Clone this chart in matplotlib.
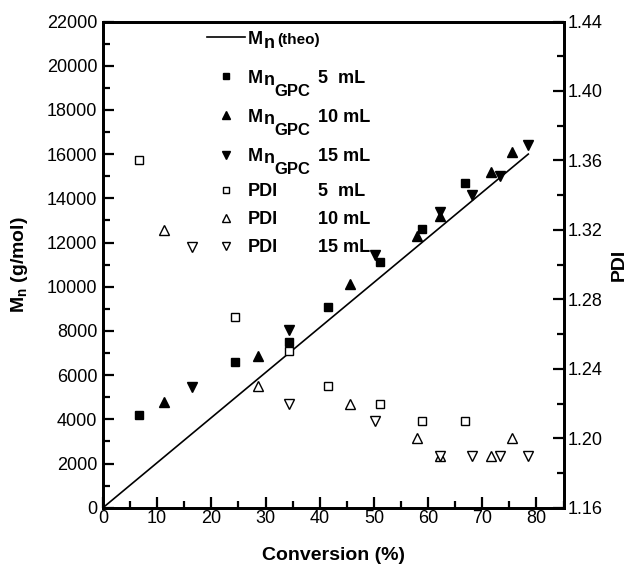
import matplotlib
matplotlib.use("Agg")
import matplotlib.pyplot as plt
from matplotlib.ticker import MultipleLocator, FormatStrFormatter

# data
theo_conv = [0, 78.5]
theo_mn = [0, 16000]

conv_5 = [6.6, 24.3, 34.3, 41.6, 51.2, 58.8, 66.9]
mn_5 = [4200, 6600, 7500, 9100, 11100, 12600, 14700]
pdi_5 = [1.36, 1.27, 1.25, 1.23, 1.22, 1.21, 1.21]

conv_10 = [11.3, 28.6, 45.6, 58.0, 62.2, 71.7, 75.5]
mn_10 = [4800, 6850, 10100, 12300, 13200, 15200, 16100]
pdi_10 = [1.32, 1.23, 1.22, 1.20, 1.19, 1.19, 1.20]

conv_15 = [16.5, 34.3, 50.2, 62.2, 68.2, 73.2, 78.5]
mn_15 = [5450, 8050, 11450, 13400, 14150, 15000, 16400]
pdi_15 = [1.31, 1.22, 1.21, 1.19, 1.19, 1.19, 1.19]

vol_labels = ["5  mL", "10 mL", "15 mL"]

plt.rcParams["font.family"] = "Liberation Sans"
plt.rcParams["mathtext.fontset"] = "custom"
plt.rcParams["mathtext.rm"] = "Liberation Sans:bold"
plt.rcParams["mathtext.bf"] = "Liberation Sans:bold"
plt.rcParams["mathtext.it"] = "Liberation Sans:bold"
plt.rcParams["mathtext.default"] = "bf"

fig = plt.figure(figsize=(6.35, 5.68), dpi=100)
ax = fig.add_axes([103 / 635, (568 - 507.7) / 568, 460.5 / 635, 486.2 / 568])
ax2 = ax.twinx()

h0, = ax.plot(theo_conv, theo_mn, color="black", lw=1.2)
h1, = ax.plot(conv_5, mn_5, "s", color="black", ms=6, ls="none")
h2, = ax.plot(conv_10, mn_10, "^", color="black", ms=7, ls="none")
h3, = ax.plot(conv_15, mn_15, "v", color="black", ms=7, ls="none")
h4, = ax2.plot(conv_5, pdi_5, "s", mfc="white", mec="black", mew=1, ms=5.5, ls="none")
h5, = ax2.plot(conv_10, pdi_10, "^", mfc="white", mec="black", mew=1, ms=7, ls="none")
h6, = ax2.plot(conv_15, pdi_15, "v", mfc="white", mec="black", mew=1, ms=7, ls="none")

ax.set_xlim(0, 85)
ax.set_ylim(0, 22000)
ax2.set_ylim(1.16, 1.44)

ax.xaxis.set_major_locator(MultipleLocator(10))
ax.xaxis.set_minor_locator(MultipleLocator(5))
ax.yaxis.set_major_locator(MultipleLocator(2000))
ax.yaxis.set_minor_locator(MultipleLocator(1000))
ax2.yaxis.set_major_locator(MultipleLocator(0.04))
ax2.yaxis.set_minor_locator(MultipleLocator(0.02))
ax2.yaxis.set_major_formatter(FormatStrFormatter("%.2f"))

for a in (ax, ax2):
    a.tick_params(which="both", direction="in", labelsize=13, width=1.6)
    a.tick_params(which="major", length=8)
    a.tick_params(which="minor", length=5)
    for s in a.spines.values():
        s.set_linewidth(2)
ax.tick_params(axis="both", top=False, right=False)
ax.tick_params(axis="x", pad=2)
ax.tick_params(axis="y", pad=4)
ax2.tick_params(axis="y", pad=3)

ax.set_xlabel("Conversion (%)", fontsize=14, fontweight="bold", labelpad=14)
ax.set_ylabel(r"$M_n$ (g/mol)", fontsize=14, fontweight="bold", labelpad=12)
ax2.set_ylabel("PDI", fontsize=14, fontweight="bold", labelpad=6)

# legend: two blocks, Mn rows are spaced wider than the PDI rows
leg_kw = dict(loc="upper left", frameon=False, borderpad=0, borderaxespad=0,
              handlelength=2.1, handletextpad=0.2, markerscale=0.75,
              prop={"weight": "bold", "size": 13})
leg1 = ax2.legend([h0, h1, h2, h3], ["M", "M", "M", "M"],
                  bbox_to_anchor=(0.225, 0.981), labelspacing=1.22, **leg_kw)
ax2.add_artist(leg1)
leg2 = ax2.legend([h4, h5, h6], ["PDI", "PDI", "PDI"],
                  bbox_to_anchor=(0.225, 0.667), labelspacing=0.6, **leg_kw)

fig.canvas.draw()
renderer = fig.canvas.get_renderer()
to_fig = fig.transFigure.inverted()


def put(x, y, s, size):
    px, py = to_fig.transform((x, y))
    t = fig.text(px, py, s, fontsize=size, fontweight="bold", va="bottom", ha="left")
    return t.get_window_extent(renderer)


vol_x = ax.transAxes.transform((0.467, 0))[0]

texts1 = leg1.get_texts()
bb = texts1[0].get_window_extent(renderer)
nb = put(bb.x1, bb.y0 - 4, "n", 13)
put(nb.x1 + 3, bb.y0 + 1, "(theo)", 11)

for t, vol in zip(texts1[1:], vol_labels):
    bb = t.get_window_extent(renderer)
    nb = put(bb.x1, bb.y0 - 2, "n", 13)
    put(nb.x1, bb.y0 - 12, "GPC", 12)
    put(vol_x, bb.y0, vol, 13)

for t, vol in zip(leg2.get_texts(), vol_labels):
    bb = t.get_window_extent(renderer)
    put(vol_x, bb.y0, vol, 13)

fig.savefig("out.png", dpi=100)
